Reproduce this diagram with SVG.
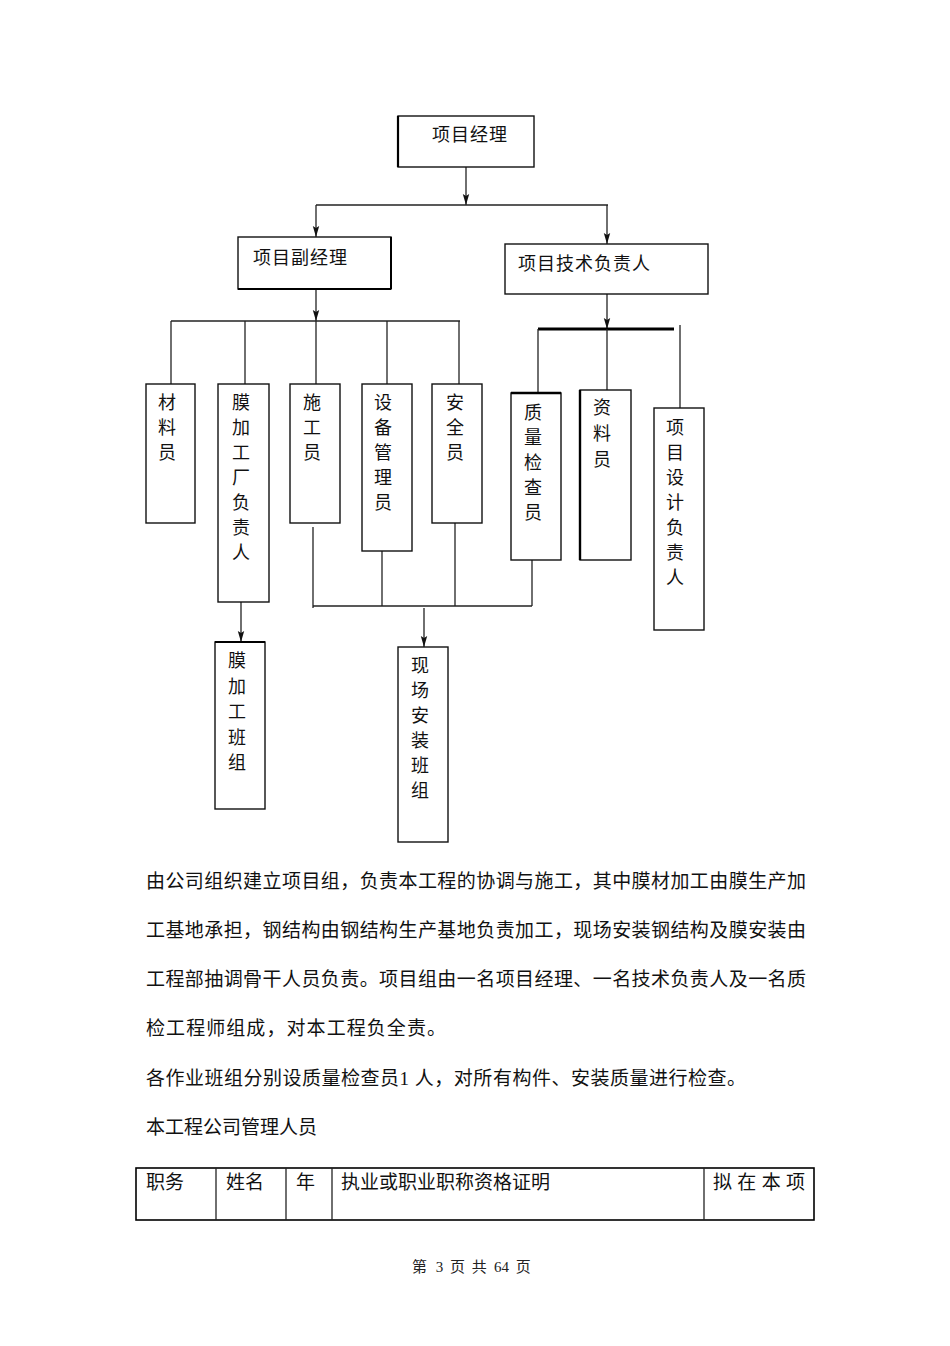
<svg xmlns="http://www.w3.org/2000/svg" width="950" height="1346" viewBox="0 0 950 1346">
<defs>
<style>
.box{fill:#fff;stroke:#111;stroke-width:1.4}
.ln{fill:none;stroke:#222;stroke-width:1.3}
.thick{fill:none;stroke:#000;stroke-width:3}
.vt{font-family:"Noto Sans CJK SC",sans-serif;font-size:18px;fill:#111;text-anchor:middle}
.ht{font-family:"Noto Sans CJK SC",sans-serif;font-size:18px;fill:#111;letter-spacing:1px}
.p{font-family:"Liberation Serif","Noto Sans CJK SC",serif;font-size:19px;fill:#111}
.ft{font-family:"Liberation Serif","Noto Sans CJK SC",serif;font-size:15px;fill:#222}
</style>
<marker id="arr" markerUnits="userSpaceOnUse" markerWidth="12" markerHeight="8" refX="11" refY="4" orient="auto">
<path d="M0,0.8 L11,4 L0,7.2 L2,4 z" fill="#111"/>
</marker>
</defs>
<rect width="950" height="1346" fill="#fff"/>

<g id="connectors">
<line class="ln" x1="466" y1="167" x2="466" y2="205" marker-end="url(#arr)"/>
<line class="ln" x1="316" y1="205" x2="608" y2="205"/>
<line class="ln" x1="316" y1="205" x2="316" y2="237" marker-end="url(#arr)"/>
<line class="ln" x1="607" y1="205" x2="607" y2="244" marker-end="url(#arr)"/>
<line class="ln" x1="316" y1="289" x2="316" y2="321" marker-end="url(#arr)"/>
<line class="ln" x1="171" y1="321" x2="460" y2="321"/>
<line class="ln" x1="171" y1="321" x2="171" y2="384"/>
<line class="ln" x1="245" y1="321" x2="245" y2="384"/>
<line class="ln" x1="316" y1="321" x2="316" y2="384"/>
<line class="ln" x1="387" y1="321" x2="387" y2="384"/>
<line class="ln" x1="459" y1="321" x2="459" y2="384"/>
<line class="ln" x1="607" y1="294" x2="607" y2="329" marker-end="url(#arr)"/>
<line class="thick" x1="538" y1="329" x2="674" y2="329"/>
<line class="ln" x1="538" y1="329" x2="538" y2="393"/>
<line class="ln" x1="607" y1="329" x2="607" y2="390"/>
<line class="ln" x1="680" y1="325" x2="680" y2="408"/>
<line class="ln" x1="313" y1="527" x2="313" y2="608"/>
<line class="ln" x1="313" y1="606" x2="532" y2="606"/>
<line class="ln" x1="382" y1="551" x2="382" y2="606"/>
<line class="ln" x1="455" y1="523" x2="455" y2="606"/>
<line class="ln" x1="532" y1="560" x2="532" y2="606"/>
<line class="ln" x1="424" y1="608" x2="424" y2="647" marker-end="url(#arr)"/>
<line class="ln" x1="241" y1="602" x2="241" y2="642" marker-end="url(#arr)"/>
</g>

<g id="pm">
<rect class="box" x="398" y="116" width="136" height="51"/>
<line x1="398" y1="116" x2="398" y2="167" stroke="#000" stroke-width="2.2"/>
<text class="ht" x="432" y="141">项目经理</text>
</g>

<g id="deputy">
<rect class="box" x="238" y="237" width="153" height="52"/>
<line x1="238" y1="289" x2="391" y2="289" stroke="#000" stroke-width="2"/>
<line x1="391" y1="237" x2="391" y2="289" stroke="#000" stroke-width="2"/>
<text class="ht" x="253" y="264">项目副经理</text>
</g>

<g id="tech">
<rect class="box" x="505" y="244" width="203" height="50"/>
<text class="ht" x="518" y="270">项目技术负责人</text>
</g>

<g id="n-cailiao">
<rect class="box" x="146" y="384" width="49" height="139"/>
<text class="vt" x="167" y="409"><tspan x="167">材</tspan><tspan x="167" dy="25">料</tspan><tspan x="167" dy="25">员</tspan></text>
</g>

<g id="n-mojiagongchang">
<rect class="box" x="218" y="384" width="51" height="218"/>
<text class="vt" x="241" y="409"><tspan x="241">膜</tspan><tspan x="241" dy="25">加</tspan><tspan x="241" dy="25">工</tspan><tspan x="241" dy="25">厂</tspan><tspan x="241" dy="25">负</tspan><tspan x="241" dy="25">责</tspan><tspan x="241" dy="25">人</tspan></text>
</g>

<g id="n-shigong">
<rect class="box" x="290" y="384" width="50" height="139"/>
<text class="vt" x="312" y="409"><tspan x="312">施</tspan><tspan x="312" dy="25">工</tspan><tspan x="312" dy="25">员</tspan></text>
</g>

<g id="n-shebei">
<rect class="box" x="362" y="384" width="50" height="167"/>
<text class="vt" x="383" y="409"><tspan x="383">设</tspan><tspan x="383" dy="25">备</tspan><tspan x="383" dy="25">管</tspan><tspan x="383" dy="25">理</tspan><tspan x="383" dy="25">员</tspan></text>
</g>

<g id="n-anquan">
<rect class="box" x="432" y="384" width="50" height="139"/>
<text class="vt" x="455" y="409"><tspan x="455">安</tspan><tspan x="455" dy="25">全</tspan><tspan x="455" dy="25">员</tspan></text>
</g>

<g id="n-zhiliang">
<rect class="box" x="511" y="393" width="50" height="167"/>
<line x1="511" y1="393" x2="561" y2="393" stroke="#000" stroke-width="2.4"/>
<text class="vt" x="533" y="419"><tspan x="533">质</tspan><tspan x="533" dy="25">量</tspan><tspan x="533" dy="25">检</tspan><tspan x="533" dy="25">查</tspan><tspan x="533" dy="25">员</tspan></text>
</g>

<g id="n-ziliao">
<rect class="box" x="580" y="390" width="51" height="170"/>
<line x1="580" y1="390" x2="580" y2="560" stroke="#000" stroke-width="2.4"/>
<text class="vt" x="602" y="414"><tspan x="602">资</tspan><tspan x="602" dy="26">料</tspan><tspan x="602" dy="26">员</tspan></text>
</g>

<g id="n-sheji">
<rect class="box" x="654" y="408" width="50" height="222"/>
<text class="vt" x="675" y="434"><tspan x="675">项</tspan><tspan x="675" dy="25">目</tspan><tspan x="675" dy="25">设</tspan><tspan x="675" dy="25">计</tspan><tspan x="675" dy="25">负</tspan><tspan x="675" dy="25">责</tspan><tspan x="675" dy="25">人</tspan></text>
</g>

<g id="n-mobanzu">
<rect class="box" x="215" y="642" width="50" height="167"/>
<line x1="215" y1="642" x2="265" y2="642" stroke="#000" stroke-width="2"/>
<text class="vt" x="237" y="667"><tspan x="237">膜</tspan><tspan x="237" dy="25.5">加</tspan><tspan x="237" dy="25.5">工</tspan><tspan x="237" dy="25.5">班</tspan><tspan x="237" dy="25.5">组</tspan></text>
</g>

<g id="n-xianchang">
<rect class="box" x="398" y="647" width="50" height="195"/>
<text class="vt" x="420" y="672"><tspan x="420">现</tspan><tspan x="420" dy="25">场</tspan><tspan x="420" dy="25">安</tspan><tspan x="420" dy="25">装</tspan><tspan x="420" dy="25">班</tspan><tspan x="420" dy="25">组</tspan></text>
</g>

<g id="paragraph">
<text class="p" x="146" y="888" textLength="660" lengthAdjust="spacing">由公司组织建立项目组，负责本工程的协调与施工，其中膜材加工由膜生产加</text>
<text class="p" x="146" y="937" textLength="660" lengthAdjust="spacing">工基地承担，钢结构由钢结构生产基地负责加工，现场安装钢结构及膜安装由</text>
<text class="p" x="146" y="986" textLength="660" lengthAdjust="spacing">工程部抽调骨干人员负责。项目组由一名项目经理、一名技术负责人及一名质</text>
<text class="p" x="146" y="1035" textLength="300" lengthAdjust="spacing">检工程师组成，对本工程负全责。</text>
<text class="p" x="146" y="1085" textLength="600" lengthAdjust="spacing">各作业班组分别设质量检查员1 人，对所有构件、安装质量进行检查。</text>
<text class="p" x="146" y="1134">本工程公司管理人员</text>
</g>

<g id="table">
<rect x="136" y="1168" width="678" height="52" fill="none" stroke="#000" stroke-width="1.6"/>
<line class="ln" x1="216" y1="1168" x2="216" y2="1220"/>
<line class="ln" x1="286" y1="1168" x2="286" y2="1220"/>
<line class="ln" x1="332" y1="1168" x2="332" y2="1220"/>
<line class="ln" x1="704" y1="1168" x2="704" y2="1220"/>
<text class="p" x="146" y="1189">职务</text>
<text class="p" x="226" y="1189">姓名</text>
<text class="p" x="296" y="1189">年</text>
<text class="p" x="341" y="1189">执业或职业职称资格证明</text>
<text class="p" x="713" y="1189" textLength="92" lengthAdjust="spacing">拟 在 本 项</text>
</g>

<g id="footer">
<text class="ft" y="1272"><tspan x="412">第</tspan><tspan x="432"> 3 </tspan><tspan x="450">页</tspan><tspan x="468"> 共 </tspan><tspan x="494">64</tspan><tspan x="512"> 页</tspan></text>
</g>
</svg>
